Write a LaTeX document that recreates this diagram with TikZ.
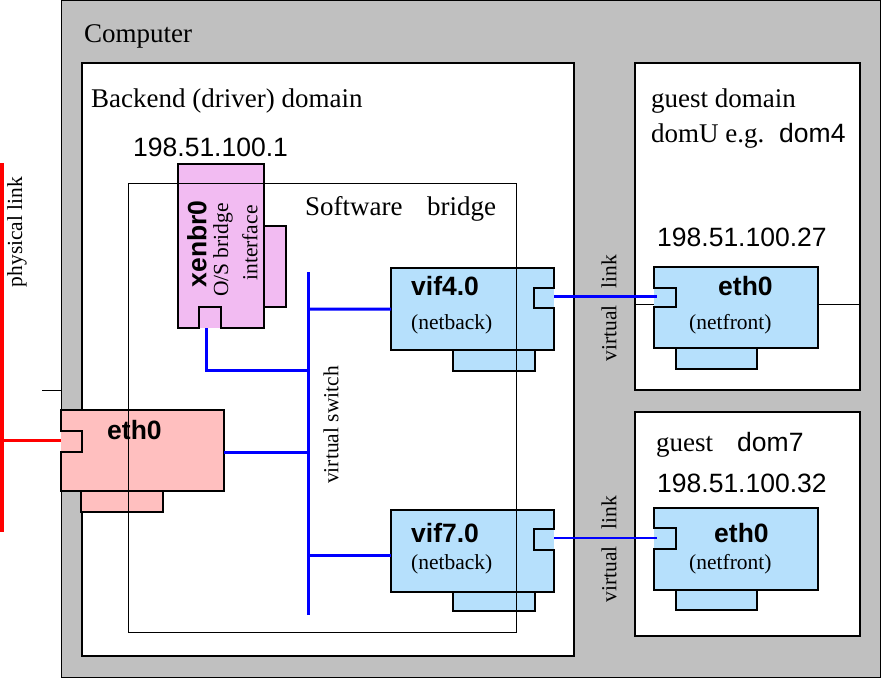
\documentclass[tikz,border=0pt]{standalone}
\usepackage{fontspec}
\setmainfont{Liberation Serif}
\setsansfont{Liberation Sans}
\definecolor{compgray}{RGB}{192,192,192}
\definecolor{xpink}{RGB}{242,187,242}
\definecolor{epink}{RGB}{255,191,191}
\definecolor{lblue}{RGB}{182,224,252}
\definecolor{vblue}{RGB}{0,0,255}
\tikzset{
  big/.style={font=\fontsize{27bp}{30bp}\selectfont},
  small/.style={font=\fontsize{21.5bp}{24bp}\selectfont},
  sbig/.style={font=\sffamily\fontsize{26.5bp}{30bp}\selectfont},
  sbold/.style={font=\sffamily\bfseries\fontsize{26.5bp}{30bp}\selectfont},
  lbl/.style={inner sep=0pt, anchor=base west},
  rlbl/.style={inner sep=0pt, rotate=90, anchor=center},
  cardbody/.style={draw=none, inner sep=0pt, outer sep=0pt, anchor=north west},
  cardline/.style={draw=black, line width=1.8bp, line join=miter},
  tabline/.style={draw=black, line width=1.2bp},
  domainbox/.style={draw=black, fill=white, line width=2bp},
  vlink/.style={draw=vblue, line width=3bp},
  plink/.style={draw=red, line width=3bp},
  thin/.style={draw=black, line width=1bp}
}
\begin{document}
\begin{tikzpicture}[x=1bp,y=-1bp]
\useasboundingbox (0,0) rectangle (882,678);
% computer and domains
\draw[thin, fill=compgray] (61,1) rectangle (880,677);
\draw[domainbox] (82,63) rectangle (574,656);
\draw[domainbox] (635,63) rectangle (860,390);
\draw[domainbox] (635,412) rectangle (860,636);
\draw[thin] (635,304) -- (860,304);
\draw[thin] (42,390) -- (61,390);

% physical link
\coordinate (ptop) at (2,163);
\coordinate (pbot) at (2,532);
\coordinate (pjoin) at (2,440);
\draw[plink] (ptop) -- (pbot);

% ---- xenbr0
\draw[tabline, fill=xpink] (264,226) rectangle (286,307);
\node[cardbody, fill=xpink, minimum width=86bp, minimum height=164bp] (xen) at (178,164) {};
\draw[cardline] (xen.north west) -- (xen.north east) -- (xen.south east) -- (221,328) -- (221,307) -- (199,307) -- (199,328) -- (xen.south west) -- cycle;
\coordinate (xenport) at (206,328);

% ---- left eth0
\draw[tabline, fill=epink] (81,491) rectangle (163,512);
\node[cardbody, fill=epink, minimum width=163bp, minimum height=81bp] (heth) at (61,410) {};
\draw[cardline] (61,431) -- (heth.north west) -- (heth.north east) -- (heth.south east) -- (heth.south west) -- (61,452) -- (82,452) -- (82,431) -- cycle;
\coordinate (hethport) at (61,440);
\coordinate (hethout) at (224,452);

% ---- vif4.0
\draw[tabline, fill=lblue] (453,350) rectangle (535,371);
\node[cardbody, fill=lblue, minimum width=163bp, minimum height=82bp] (vif4) at (391,268) {};
\draw[cardline] (554,288) -- (vif4.north east) -- (vif4.north west) -- (vif4.south west) -- (vif4.south east) -- (554,308) -- (534,308) -- (534,288) -- cycle;
\coordinate (vif4port) at (554,296);

% ---- vif7.0
\draw[tabline, fill=lblue] (453,592) rectangle (535,611);
\node[cardbody, fill=lblue, minimum width=163bp, minimum height=82bp] (vif7) at (391,510) {};
\draw[cardline] (554,529) -- (vif7.north east) -- (vif7.north west) -- (vif7.south west) -- (vif7.south east) -- (554,550) -- (534,550) -- (534,529) -- cycle;
\coordinate (vif7port) at (554,538);

% ---- guest eth0 (dom4)
\draw[tabline, fill=lblue] (676,348) rectangle (757,369);
\node[cardbody, fill=lblue, minimum width=164bp, minimum height=81bp] (g4) at (654,267) {};
\draw[cardline] (654,288) -- (g4.north west) -- (g4.north east) -- (g4.south east) -- (g4.south west) -- (654,307) -- (676,307) -- (676,288) -- cycle;
\coordinate (g4port) at (657,296);

% ---- guest eth0 (dom7)
\draw[tabline, fill=lblue] (676,590) rectangle (757,610);
\node[cardbody, fill=lblue, minimum width=164bp, minimum height=82bp] (g7) at (654,508) {};
\draw[cardline] (654,528) -- (g7.north west) -- (g7.north east) -- (g7.south east) -- (g7.south west) -- (654,549) -- (676,549) -- (676,528) -- cycle;
\coordinate (g7port) at (657,538);

% ---- connectors
\draw[plink] (pjoin) -- (hethport);
\coordinate (swtop) at (308,272);
\coordinate (swbot) at (308,615);
\draw[vlink] (swtop) -- (swbot);
\draw[vlink] (308,309) -- (vif4.west);
\draw[vlink] (308,555) -- (vif7.west |- 0,555);
\draw[vlink] (xenport) |- (308,370);
\draw[vlink] (hethout) -- (308,452);
\draw[vlink] (vif4port) -- (g4port);
\draw[draw=vblue, line width=2.5bp] (vif7port) -- (g7port);

% software bridge (drawn on top)
\draw[thin] (128,183) rectangle (516,632);

% ---- texts
\node[lbl, big] (tcomp) at (84,43) {Computer};
\node[lbl, big] (tback) at (91,108) {Backend (driver) domain};
\node[lbl, sbig] (tip1) at (133,157) {198.51.100.1};
\node[lbl, big] (tsw) at (305,215) {Software};
\node[lbl, big] (tbr) at (427,215) {bridge};
\node[rlbl, sbold] (txen) at (197,244) {xenbr0};
\node[rlbl, small] (tos) at (223,250) {O/S bridge};
\node[rlbl, small] (tif) at (250,243) {interface};
\node[rlbl, small] (tvs) at (331,425) {virtual switch};
\node[rlbl, small] (tpl) at (17,232) {physical link};
\node[rlbl, small] (tvl4) at (609,308) {virtual\hspace{17bp}link};
\node[rlbl, small] (tvl7) at (609,549) {virtual\hspace{17bp}link};

\node[lbl, sbold] (theth) at (107,439) {eth0};
\node[lbl, sbold] (tvif4) at (411,295) {vif4.0};
\node[lbl, small] (tnb4) at (411,329) {(netback)};
\node[lbl, sbold] (tvif7) at (411,542) {vif7.0};
\node[lbl, small] (tnb7) at (411,569) {(netback)};
\node[lbl, sbold] (tg4) at (718,295) {eth0};
\node[lbl, small] (tnf4) at (689,329) {(netfront)};
\node[lbl, sbold] (tg7) at (714,542) {eth0};
\node[lbl, small] (tnf7) at (689,569) {(netfront)};

\node[lbl, big] (tgd) at (651,108) {guest domain};
\node[lbl, big] (tdu) at (651,143) {domU e.g.};
\node[lbl, sbig] (td4) at (779,143) {dom4};
\node[lbl, sbig] (tip27) at (657,246) {198.51.100.27};
\node[lbl, big] (tgu) at (656,451) {guest};
\node[lbl, sbig] (td7) at (737,451) {dom7};
\node[lbl, sbig] (tip32) at (657,492) {198.51.100.32};
\end{tikzpicture}
\end{document}
